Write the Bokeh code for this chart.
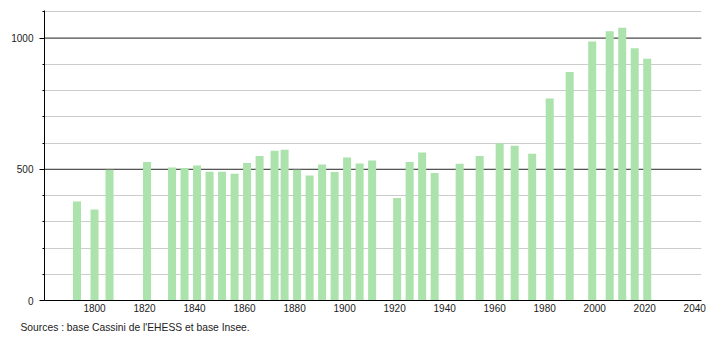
from bokeh.plotting import figure
from bokeh.models import FixedTicker, Range1d, Span, Title
from bokeh.embed import file_html
from bokeh.resources import INLINE

years = [1793, 1800, 1806, 1821, 1831, 1836, 1841, 1846, 1851, 1856, 1861, 1866,
         1872, 1876, 1881, 1886, 1891, 1896, 1901, 1906, 1911, 1921, 1926, 1931,
         1936, 1946, 1954, 1962, 1968, 1975, 1982, 1990, 1999, 2006, 2011, 2016, 2021]
population = [377, 347, 498, 528, 507, 505, 514, 491, 491, 483, 524, 551,
              571, 574, 498, 476, 518, 490, 545, 522, 533, 391, 528, 564,
              486, 521, 551, 599, 590, 559, 770, 871, 987, 1026, 1039, 961, 921]
x_ticks = [1800, 1820, 1840, 1860, 1880, 1900, 1920, 1940, 1960, 1980, 2000, 2020, 2040]
y_ticks = [0, 500, 1000]
y_minor = [100, 200, 300, 400, 600, 700, 800, 900, 1100]
grid_lines = [100, 200, 300, 400, 500, 600, 700, 800, 900, 1000, 1100]
source_text = "Sources : base Cassini de l'EHESS et base Insee."

FONT = "Liberation Sans"

p = figure(width=710, height=340, output_backend="svg", toolbar_location=None,
           x_range=Range1d(1780, 2042.7), y_range=Range1d(0, 1105),
           min_border_left=44, min_border_right=9, min_border_top=10, min_border_bottom=40)
p.outline_line_color = None
p.background_fill_color = "white"
p.border_fill_color = "white"

p.vbar(x=years, top=population, width=3.2, bottom=0,
       fill_color="#ace2ac", line_color=None)

# grids
p.xgrid.grid_line_color = None
p.ygrid.ticker = FixedTicker(ticks=grid_lines)
p.ygrid.grid_line_color = "#cccccc"
p.ygrid.grid_line_width = 1
p.ygrid.level = "underlay"
for v in [500, 1000]:
    p.add_layout(Span(location=v, dimension="width", line_color="#333333",
                      line_width=1, level="underlay"))

# y axis
p.yaxis.ticker = FixedTicker(ticks=y_ticks, minor_ticks=y_minor)
p.yaxis.axis_line_color = "black"
p.yaxis.major_tick_in = 0
p.yaxis.major_tick_out = 5
p.yaxis.minor_tick_in = 0
p.yaxis.minor_tick_out = 2
p.yaxis.major_label_standoff = 6
p.yaxis.major_label_text_font = FONT
p.yaxis.major_label_text_font_size = "10px"
p.yaxis.major_label_text_color = "#222222"

# x axis
p.xaxis.ticker = FixedTicker(ticks=x_ticks, minor_ticks=[])
p.xaxis.axis_line_color = "black"
p.xaxis.major_tick_in = 0
p.xaxis.major_tick_out = 0
p.xaxis.major_label_standoff = 3
p.xaxis.major_label_text_font = FONT
p.xaxis.major_label_text_font_size = "10px"
p.xaxis.major_label_text_color = "#222222"

t = Title(text=source_text, align="left", text_font=FONT, text_font_size="10.3px",
          text_font_style="normal", text_color="#222222", offset=-24, standoff=10,
          text_line_height=1.5, vertical_align="bottom")
p.add_layout(t, "below")

open("out.html", "w").write(file_html(p, INLINE))
